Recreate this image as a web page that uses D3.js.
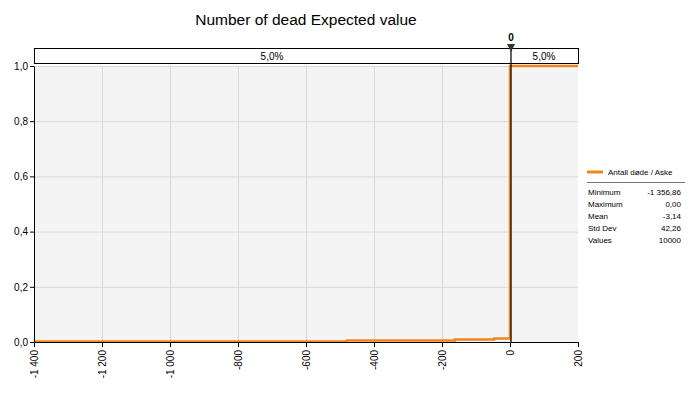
<!DOCTYPE html>
<html>
<head>
<meta charset="utf-8">
<script src="https://cdn.jsdelivr.net/npm/d3@7"></script>
<style>
  body { margin: 0; background: #fff; }
  svg { font-family: "Liberation Sans", Arial, sans-serif; }
  .axis path, .axis line { stroke: #000; }
  .axis text { font-size: 10px; fill: #000; }
</style>
</head>
<body>
<svg id="chart" width="693" height="394"></svg>
<script>
// cumulative curve
var stepX = [-1400, -480, -162, -47, 0, 200];
var stepY = [0.002, 0.005, 0.009, 0.013, 1, 1];
var xTicks = [-1400, -1200, -1000, -800, -600, -400, -200, 0, 200];
var yTicks = [0, 0.2, 0.4, 0.6, 0.8, 1.0];
var markerValue = 0;
var bandLabels = ["5,0%", "5,0%"];
var seriesName = "Antall døde / Aske";
var statLabels = ["Minimum", "Maximum", "Mean", "Std Dev", "Values"];
var statValues = ["-1 356,86", "0,00", "-3,14", "42,26", "10000"];

var svg = d3.select("#chart");
var margin = {top: 66, right: 115, bottom: 52, left: 34},
    width = 693 - margin.left - margin.right,
    height = 394 - margin.top - margin.bottom;

var x = d3.scaleLinear().domain([-1400, 200]).range([margin.left, margin.left + width]);
var y = d3.scaleLinear().domain([0, 1]).range([margin.top + height, margin.top]);

// number format with space for thousands and comma decimals
var fmtX = function(d) {
  var s = d3.format(",")(d).replace(/,/g, " ");
  return s.replace("−", "-");
};
var fmtY = function(d) { return d3.format(".1f")(d).replace(".", ","); };

svg.append("text")
  .attr("x", (x.range()[0] + x.range()[1]) / 2)
  .attr("y", 25)
  .attr("text-anchor", "middle")
  .style("font-size", "15.5px")
  .text("Number of dead Expected value");

// plot background
svg.append("rect")
  .attr("x", margin.left).attr("y", margin.top)
  .attr("width", width).attr("height", height)
  .attr("fill", "#f4f4f4");

// grid
svg.append("g").selectAll("line")
  .data(xTicks.slice(1, -1))
  .enter().append("line")
  .attr("x1", d => x(d) + 0.5).attr("x2", d => x(d) + 0.5)
  .attr("y1", margin.top).attr("y2", margin.top + height)
  .attr("stroke", "#d9d9d9");

svg.append("g").selectAll("line")
  .data(yTicks.slice(1))
  .enter().append("line")
  .attr("x1", margin.left).attr("x2", margin.left + width)
  .attr("y1", d => y(d) + 0.5).attr("y2", d => y(d) + 0.5)
  .attr("stroke", "#d9d9d9");

// percentile band on top
var band = svg.append("g");
band.append("rect")
  .attr("x", margin.left + 0.5).attr("y", 48.5)
  .attr("width", width).attr("height", 15)
  .attr("fill", "#fff").attr("stroke", "#000");
band.selectAll("text")
  .data([[-1400, markerValue], [markerValue, 200]])
  .enter().append("text")
  .attr("x", d => (x(d[0]) + x(d[1])) / 2)
  .attr("y", 60)
  .attr("text-anchor", "middle")
  .style("font-size", "10px")
  .text((d, i) => bandLabels[i]);

// step curve
var line = d3.line()
  .x(d => x(d[0]))
  .y(d => y(d[1]))
  .curve(d3.curveStepAfter);

svg.append("path")
  .datum(stepX.map((d, i) => [d, stepY[i]]))
  .attr("d", line)
  .attr("fill", "none")
  .attr("stroke", "#f0861a")
  .attr("stroke-width", 2.5);

// marker
var mx = x(markerValue) + 1;
svg.append("line")
  .attr("x1", mx).attr("x2", mx)
  .attr("y1", 44).attr("y2", margin.top + height)
  .attr("stroke", "#1a0a00").attr("stroke-width", 1.3);
svg.append("path")
  .attr("d", d3.line()([[mx - 4, 44], [mx + 4, 44], [mx, 52]]) + "Z")
  .attr("fill", "#333");
svg.append("text")
  .attr("x", mx).attr("y", 41)
  .attr("text-anchor", "middle")
  .style("font-size", "10px")
  .style("font-weight", "bold")
  .text(fmtY(markerValue).split(",")[0]);

// axes
svg.append("g")
  .attr("class", "axis")
  .attr("transform", "translate(0," + (margin.top + height) + ")")
  .call(d3.axisBottom(x).tickValues(xTicks).tickSize(5).tickSizeOuter(0).tickFormat(fmtX))
  .selectAll("text")
  .attr("transform", "rotate(-90)")
  .attr("text-anchor", "end")
  .attr("x", -8)
  .attr("y", 0)
  .attr("dy", "0.35em");

svg.append("g")
  .attr("class", "axis")
  .attr("transform", "translate(" + margin.left + ",0)")
  .call(d3.axisLeft(y).tickValues(yTicks).tickSize(4).tickSizeOuter(0).tickFormat(fmtY))
  .selectAll("text").attr("x", -6);

// legend
var lg = svg.append("g").attr("transform", "translate(587,0)");
lg.append("line")
  .attr("x1", 0).attr("x2", 16).attr("y1", 172).attr("y2", 172)
  .attr("stroke", "#f0861a").attr("stroke-width", 3);
lg.append("text")
  .attr("x", 21).attr("y", 175)
  .style("font-size", "8px")
  .text(seriesName);
lg.append("line")
  .attr("x1", 0).attr("x2", 98).attr("y1", 182.5).attr("y2", 182.5)
  .attr("stroke", "#777");

var rows = lg.selectAll(".stat")
  .data(statLabels)
  .enter().append("g")
  .attr("class", "stat")
  .attr("transform", (d, i) => "translate(0," + (195 + i * 12) + ")")
  .style("font-size", "8px");
rows.append("text").attr("x", 1).text(d => d);
rows.append("text").attr("x", 94).attr("text-anchor", "end").text((d, i) => statValues[i]);
</script>
</body>
</html>
